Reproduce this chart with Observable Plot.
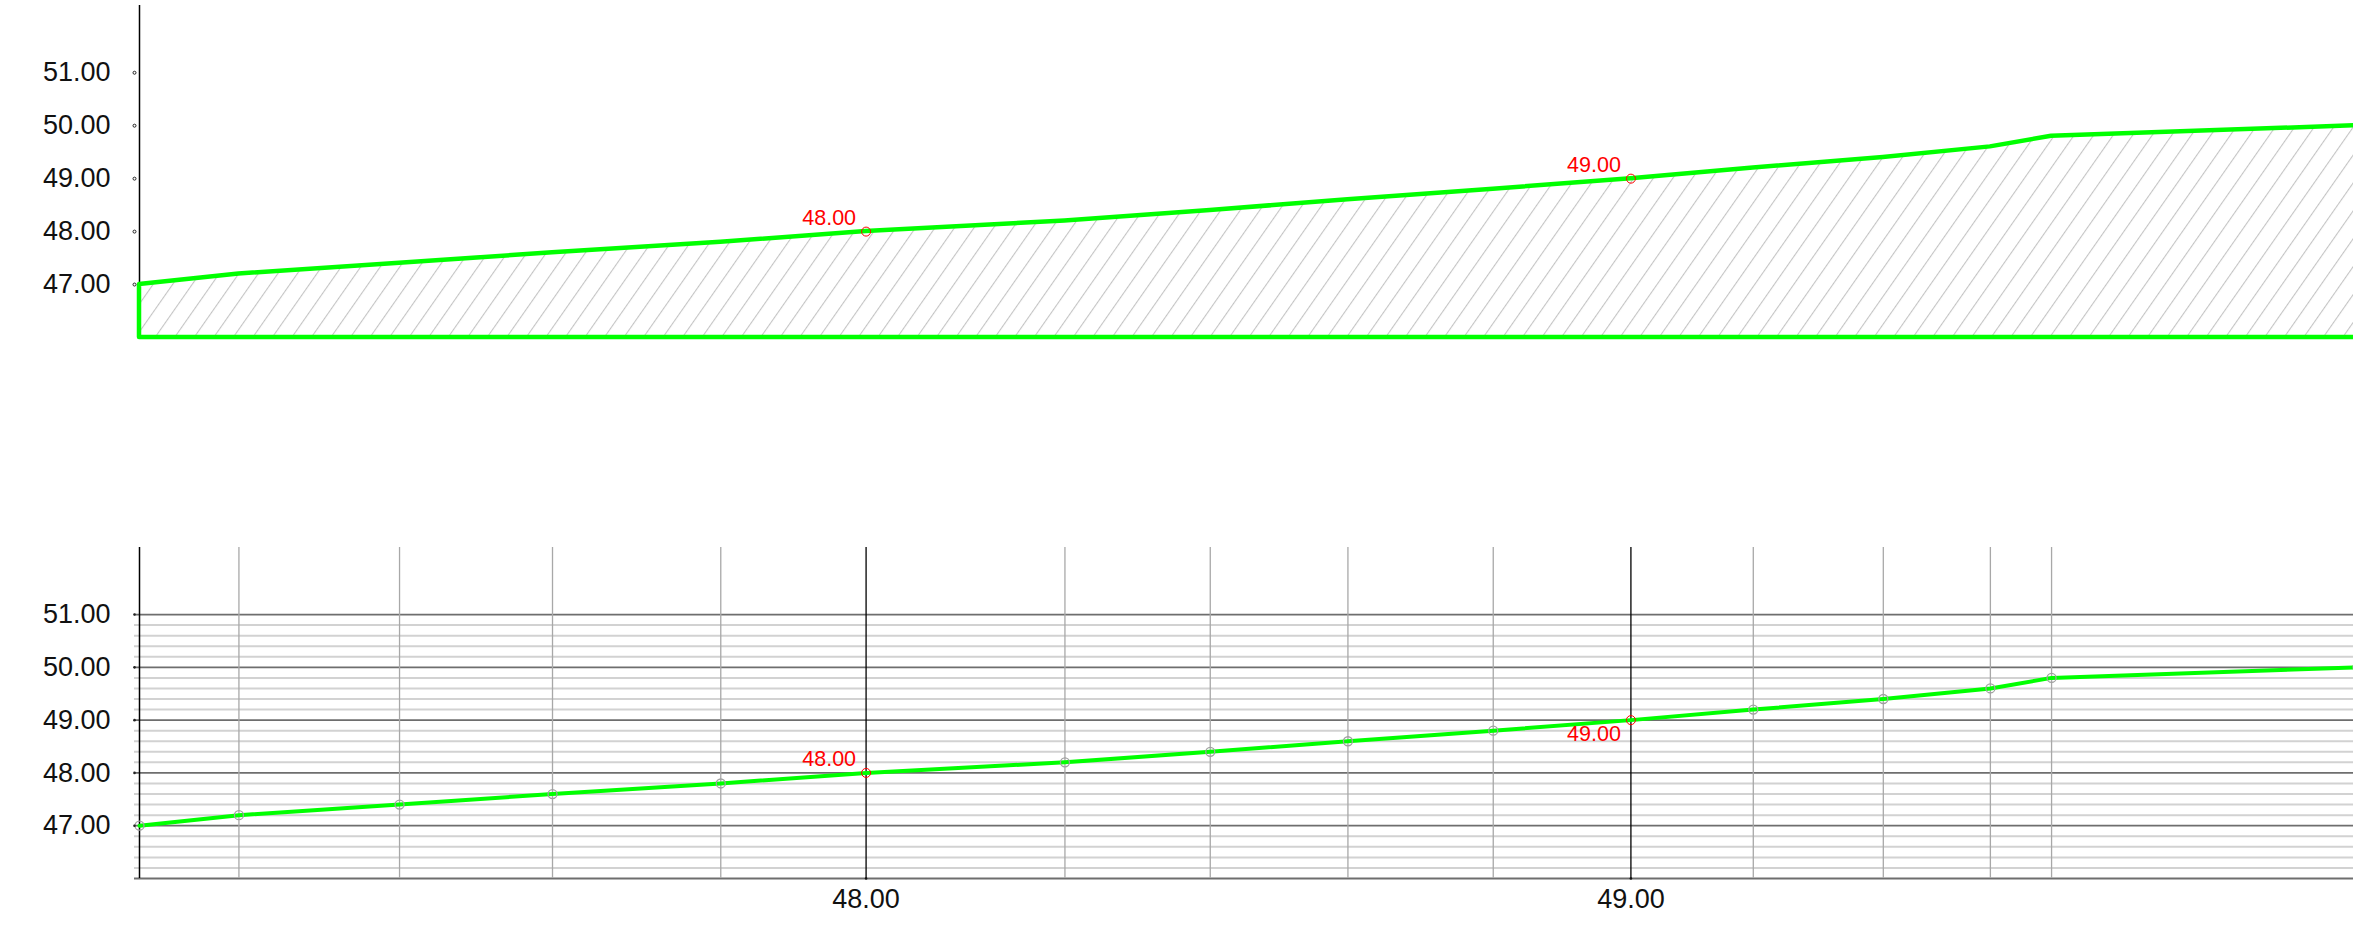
<!DOCTYPE html>
<html>
<head>
<meta charset="utf-8">
<script src="https://cdn.jsdelivr.net/npm/d3@7"></script>
<script src="https://cdn.jsdelivr.net/npm/@observablehq/plot@0.6"></script>
<style>
  html, body { margin: 0; padding: 0; background: #fff; overflow: hidden; }
  #chart { width: 2353px; overflow: hidden; }
  #chart svg { display: block; max-width: none !important; }
</style>
</head>
<body>
<div id="chart"></div>
<script>
// ---- data ----
const xValues = [47.05, 47.18, 47.39, 47.59, 47.81, 48.00, 48.26, 48.45, 48.63, 48.82, 49.00, 49.16, 49.33, 49.47, 49.55, 49.95];
const yValues = [47.0, 47.2, 47.4, 47.6, 47.8, 48.0, 48.2, 48.4, 48.6, 48.8, 49.0, 49.2, 49.4, 49.6, 49.8, 50.0];
const yTicks = [47, 48, 49, 50, 51];
const xTicks = [48, 49];
const yMajorGrid = [46, 47, 48, 49, 50, 51];
const yMinorGrid = [46.2, 46.4, 46.6, 46.8, 47.2, 47.4, 47.6, 47.8, 48.2, 48.4, 48.6, 48.8,
                    49.2, 49.4, 49.6, 49.8, 50.2, 50.4, 50.6, 50.8];
const labelAboveX = [48];
const labelBelowX = [49];
const highlightX = [48, 49];
const yDomain = [46, 52.27];

const data = xValues.map((x, i) => ({x, y: yValues[i]}));
const hi = data.filter(d => highlightX.includes(d.x));
const rest = data.filter(d => !highlightX.includes(d.x));
const above = data.filter(d => labelAboveX.includes(d.x));
const below = data.filter(d => labelBelowX.includes(d.x));
const fmt = d => d.toFixed(2);
const W = 2357; // slightly wider than the window: the right edge is cut off as in the reference
const font = "'Liberation Sans', Arial, Helvetica, sans-serif";
const GREEN = "#00ff00";

// ---------- top panel ----------
const topPlot = Plot.plot({
  width: W, height: 360,
  marginLeft: 139, marginRight: 0, marginTop: 5, marginBottom: 23,
  x: {domain: d3.extent(xValues), axis: null},
  y: {domain: yDomain, axis: null},
  style: {fontFamily: font, background: "white"},
  marks: [
    Plot.ruleX([xValues[0]], {stroke: "black", strokeWidth: 1.5}),
    Plot.areaY(data, {x: "x", y1: yDomain[0], y2: "y", fill: "url(#hatch)",
      stroke: GREEN, strokeWidth: 4.5, strokeLinejoin: "round"}),
    Plot.axisY({ticks: yTicks, tickFormat: fmt, tickSize: 0, tickPadding: 29, fontSize: 27, fill: "#111", label: null}),
    Plot.dot(yTicks, {y: d => d, frameAnchor: "left", dx: -5, r: 1.5, stroke: "#222", fill: "white", strokeWidth: 1}),
    Plot.dot(hi, {x: "x", y: "y", r: 4.5, stroke: "red", strokeWidth: 1, fill: "none"}),
    Plot.text(hi, {x: "x", y: "y", text: d => fmt(d.y), fill: "red", fontSize: 21.5,
      textAnchor: "end", lineAnchor: "bottom", dx: -10, dy: -7})
  ]
});

// hatch pattern
const defs = d3.select(topPlot).insert("defs", ":first-child");
const pat = defs.append("pattern")
  .attr("id", "hatch")
  .attr("patternUnits", "userSpaceOnUse")
  .attr("width", 16).attr("height", 16)
  .attr("patternTransform", "rotate(35)");
pat.append("line")
  .attr("x1", 0).attr("y1", 0).attr("x2", 0).attr("y2", 16)
  .attr("stroke", "#c4c4c4").attr("stroke-width", 2.2);

// ---------- bottom panel ----------
const bottomPlot = Plot.plot({
  width: W, height: 567,
  marginLeft: 139, marginRight: 0, marginTop: 187, marginBottom: 49,
  x: {domain: d3.extent(xValues), axis: null},
  y: {domain: yDomain, axis: null},
  style: {fontFamily: font, background: "white"},
  marks: [
    Plot.ruleY(yMinorGrid, {stroke: "#d2d2d2", strokeWidth: 2, insetLeft: -5}),
    Plot.ruleY(yMajorGrid, {stroke: "#6e6e6e", strokeWidth: 1.8, insetLeft: -5}),
    Plot.ruleX(rest.slice(1).map(d => d.x), {stroke: "#a8a8a8", strokeWidth: 1.3}),
    Plot.ruleX(xTicks, {stroke: "black", strokeWidth: 1.3}),
    Plot.ruleX([xValues[0]], {stroke: "black", strokeWidth: 1.5}),
    Plot.line(data, {x: "x", y: "y", stroke: GREEN, strokeWidth: 4}),
    Plot.dot(rest, {x: "x", y: "y", r: 4.5, stroke: "#a0a0a0", strokeWidth: 1.3, fill: "none"}),
    Plot.dot(hi, {x: "x", y: "y", r: 4.5, stroke: "red", strokeWidth: 1, fill: "none"}),
    Plot.text(above, {x: "x", y: "y", text: d => fmt(d.y), fill: "red", fontSize: 21.5,
      textAnchor: "end", lineAnchor: "bottom", dx: -10, dy: -7}),
    Plot.text(below, {x: "x", y: "y", text: d => fmt(d.y), fill: "red", fontSize: 21.5,
      textAnchor: "end", lineAnchor: "bottom", dx: -10, dy: 21}),
    Plot.axisY({ticks: yTicks, tickFormat: fmt, tickSize: 0, tickPadding: 29, fontSize: 27, fill: "#111", label: null}),
    Plot.dot(yMajorGrid.slice(1), {y: d => d, frameAnchor: "left", dx: -5, r: 1.3, fill: "#222"}),
    Plot.dot(xTicks, {x: d => d, frameAnchor: "bottom", r: 1.3, fill: "#111"}),
    Plot.axisX({ticks: xTicks, tickFormat: fmt, tickSize: 0, tickPadding: 10, fontSize: 27, fill: "#111", label: null})
  ]
});

const chart = document.getElementById("chart");
chart.appendChild(topPlot);
chart.appendChild(bottomPlot);
</script>
</body>
</html>
